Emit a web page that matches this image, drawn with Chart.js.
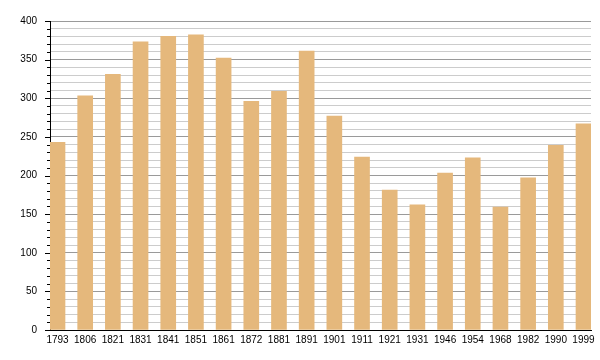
<!DOCTYPE html>
<html>
<head>
<meta charset="utf-8">
<script src="https://cdn.jsdelivr.net/npm/chart.js@4"></script>
<style>
  html, body { margin: 0; padding: 0; background: #fff; }
  #wrap { width: 600px; height: 360px; }
</style>
</head>
<body>
<div id="wrap"><canvas id="popChart" width="600" height="360"></canvas></div>
<script>
const years = ["1793", "1806", "1821", "1831", "1841", "1851", "1861", "1872", "1881", "1891",
    "1901", "1911", "1921", "1931", "1946", "1954", "1968", "1982", "1990", "1999"];
const population = [243, 303, 331, 373, 380, 382, 352, 296, 309, 361,
    277, 224, 181, 162, 203, 223, 159, 197, 239, 267];
const yTicks = [0, 50, 100, 150, 200, 250, 300, 350, 400];

// tick marks on the left axis: long ones at labels, short ones every 10
const axisTicks = {
    id: "axisTicks",
    afterDraw(chart) {
        const ctx = chart.ctx;
        const y = chart.scales.y;
        const left = chart.chartArea.left;
        ctx.save();
        ctx.strokeStyle = "#000";
        ctx.lineWidth = 1;
        for (let v = 0; v <= 400; v += 10) {
            const py = Math.round(y.getPixelForValue(v)) + 0.5;
            const len = yTicks.includes(v) ? 5 : 3;
            ctx.beginPath();
            ctx.moveTo(left - len, py);
            ctx.lineTo(left, py);
            ctx.stroke();
        }
        ctx.restore();
    }
};

const ctx = document.getElementById("popChart").getContext("2d");
new Chart(ctx, {
    type: "bar",
    data: {
        datasets: [{
            data: population.map((v, i) => ({x: i, y: v})),
            backgroundColor: "#e5b87c",
            borderWidth: 0,
            barThickness: 15
        }]
    },
    options: {
        responsive: false,
        animation: false,
        layout: {padding: {top: 21, right: 9, left: 0, bottom: 0}},
        plugins: {
            legend: {display: false},
            tooltip: {enabled: false}
        },
        scales: {
            x: {
                type: "linear",
                offset: false,
                min: -0.271,
                max: years.length - 1 + 0.271,
                afterBuildTicks: axis => {
                    axis.ticks = years.map((_, i) => ({value: i}));
                },
                afterFit: axis => { axis.height = 30; },
                grid: {display: false, drawTicks: false},
                border: {color: "#000", width: 1},
                ticks: {
                    autoSkip: false,
                    maxRotation: 0,
                    padding: 4,
                    color: "#000",
                    font: {family: "Liberation Sans", size: 10},
                    callback: v => years[v]
                }
            },
            y: {
                min: 0,
                max: 400,
                afterBuildTicks: axis => {
                    const t = [];
                    for (let v = 0; v <= 400; v += 10) t.push({value: v});
                    axis.ticks = t;
                },
                afterFit: axis => { axis.width = 50; },
                grid: {
                    drawTicks: false,
                    color: c => (c.tick.value % 50 === 0 ? "#9a9a9a" : "#cccccc"),
                    lineWidth: 1
                },
                border: {color: "#000", width: 1},
                ticks: {
                    autoSkip: false,
                    padding: 13,
                    color: "#000",
                    font: {family: "Liberation Sans", size: 10},
                    callback: v => (yTicks.includes(v) ? String(v) : "")
                }
            }
        }
    },
    plugins: [axisTicks]
});
</script>
</body>
</html>
